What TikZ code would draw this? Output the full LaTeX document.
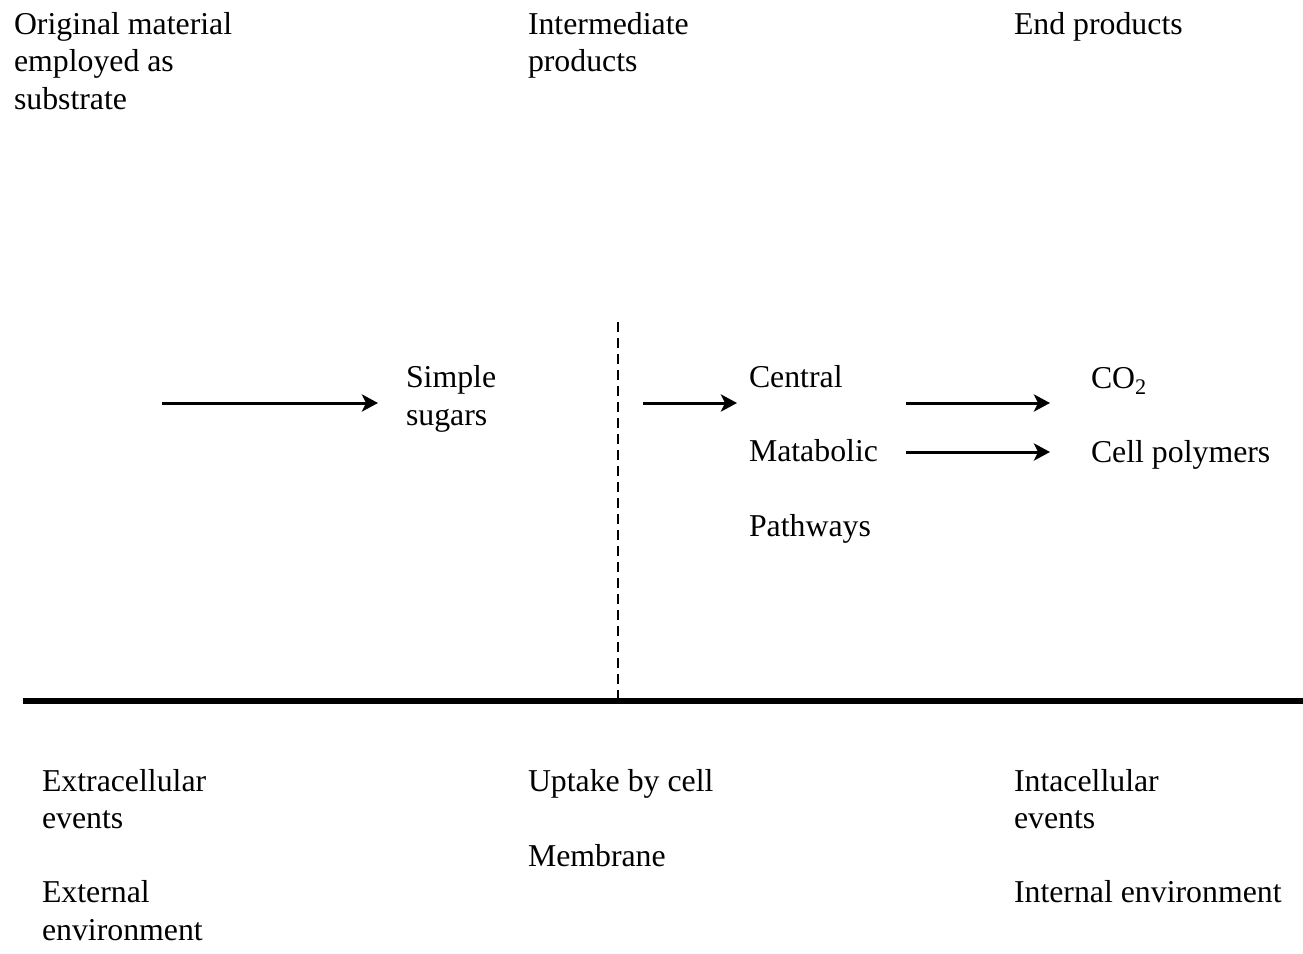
\documentclass[tikz,border=0pt]{standalone}
\usepackage{fontspec}
\setmainfont{Liberation Serif}
\usetikzlibrary{arrows.meta}
\begin{document}
\begin{tikzpicture}[x=1pt,y=-1pt,
  lbl/.style={anchor=base west,inner sep=0pt,outer sep=0pt,align=left,font=\fontsize{31.8pt}{37.5pt}\selectfont},
  flow/.style={line width=3pt,-{Stealth[length=16pt,width=17pt,inset=4pt]}}]
\useasboundingbox[fill=white] (0,0) rectangle (1303,953);
% headers (anchor = baseline of last line)
\node[lbl] (orig) at (14,109) {Original material\\employed as\\substrate};
\node[lbl] (inter) at (528,71.5) {Intermediate\\products};
\node[lbl] (endp) at (1014,34) {End products};
% middle
\node[lbl] (sugars) at (406,425) {Simple\\sugars};
\node[lbl] (central) at (749,387) {Central};
\node[lbl] (matab) at (749,461) {Matabolic};
\node[lbl] (path) at (749,536) {Pathways};
\node[lbl] (co2) at (1091,388) {CO\textsubscript{2}};
\node[lbl] (poly) at (1091,462) {Cell polymers};
% bottom
\node[lbl] (extra) at (42,828.5) {Extracellular\\events};
\node[lbl] (extenv) at (42,940) {External\\environment};
\node[lbl] (uptake) at (528,791) {Uptake by cell};
\node[lbl] (membr) at (528,866) {Membrane};
\node[lbl] (intra) at (1014,828.5) {Intacellular\\events};
\node[lbl] (intenv) at (1014,902) {Internal environment};
% arrow coordinates
\coordinate (a1s) at (162,403);
\coordinate (a1e) at (378,403);
\coordinate (a2s) at (643,403);
\coordinate (a2e) at (737,403);
\coordinate (a3s) at (906,403);
\coordinate (a3e) at (1050,403);
\coordinate (a4s) at (906,452);
\coordinate (a4e) at (1050,452);
\draw[flow] (a1s) -- (a1e);
\draw[flow] (a2s) -- (a2e);
\draw[flow] (a3s) -- (a3e);
\draw[flow] (a4s) -- (a4e);
% membrane lines
\coordinate (dtop) at (618,322);
\coordinate (dbot) at (618,701);
\draw[line width=1.5pt,dash pattern=on 10pt off 6pt] (dtop) -- (dbot);
\coordinate (hl) at (23,701);
\coordinate (hr) at (1303,701);
\draw[line width=6pt] (hl) -- (hr);
\end{tikzpicture}
\end{document}
